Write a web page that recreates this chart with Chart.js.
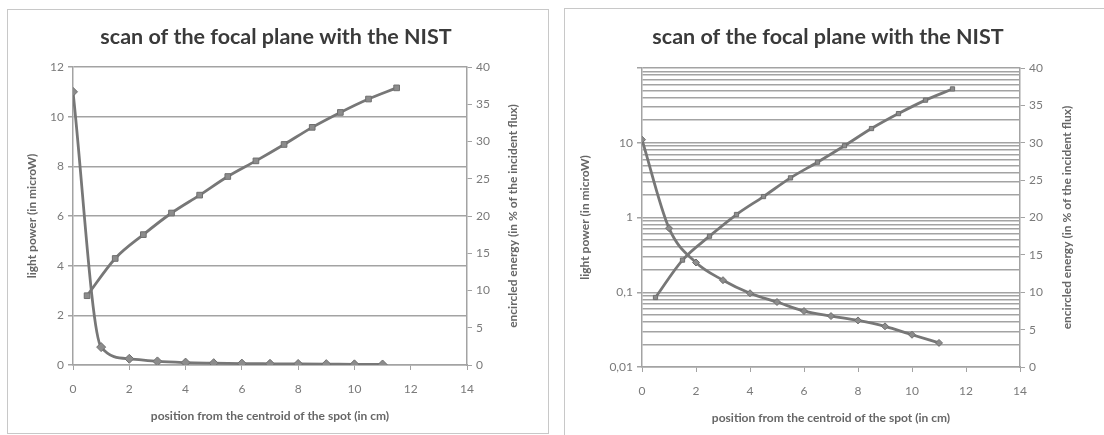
<!DOCTYPE html>
<html>
<head>
<meta charset="utf-8">
<script src="https://cdn.jsdelivr.net/npm/chart.js@4/dist/chart.umd.min.js"></script>
<style>
    body { margin: 0; background: #fff; width: 1104px; height: 435px; overflow: hidden; position: relative; }
    .frame { position: absolute; border: 1px solid #c8c8c8; box-sizing: border-box; }
    .holder { position: absolute; top: 0; width: 552px; height: 435px; }
</style>
</head>
<body>
<div class="frame" style="left:7px; top:9px; width:542px; height:425px;"></div>
<div class="frame" style="left:564px; top:8px; width:560px; height:440px;"></div>
<div class="holder" style="left:0;"><canvas id="linChart" width="552" height="435"></canvas></div>
<div class="holder" style="left:552px;"><canvas id="logChart" width="552" height="435"></canvas></div>
<script>
// measured light power, one point per cm
const powerPositions = [0, 1, 2, 3, 4, 5, 6, 7, 8, 9, 10, 11];
const lightPower = [11, 0.72, 0.25, 0.145, 0.097, 0.074, 0.056, 0.048, 0.042, 0.035, 0.027, 0.021];

// encircled energy, taken half way between the power points
const energyPositions = [0.5, 1.5, 2.5, 3.5, 4.5, 5.5, 6.5, 7.5, 8.5, 9.5, 10.5, 11.5];
const encircledEnergy = [9.3, 14.3, 17.5, 20.4, 22.8, 25.3, 27.4, 29.6, 31.9, 33.9, 35.7, 37.2];

const logTickLabels = { 0.01: '0,01', 0.1: '0,1', 1: '1', 10: '10' };

const chartTitle = 'scan of the focal plane with the NIST';
const xTitle = 'position from the centroid of the spot (in cm)';
const yTitle = 'light power (in microW)';
const y2Title = 'encircled energy (in % of the incident flux)';

const lineGray = '#777777';
const gridGray = '#a3a3a3';
const tickGray = '#7a7a7a';
const titleGray = '#666666';

Chart.defaults.font.family = 'Lato, "Open Sans", sans-serif';
Chart.defaults.animation = false;

function toPoints(xs, ys) {
    return xs.map((x, i) => ({ x: x, y: ys[i] }));
}

// Excel puts the secondary axis title reading bottom to top, Chart.js does not
const rightTitlePlugin = {
    id: 'rightTitle',
    afterDraw(chart, args, opts) {
        const s = chart.scales.y2;
        const c = chart.ctx;
        c.save();
        c.translate(s.right - opts.offset, (s.top + s.bottom) / 2);
        c.rotate(-Math.PI / 2);
        c.font = 'bold 12px Lato, sans-serif';
        c.fillStyle = titleGray;
        c.textAlign = 'center';
        c.textBaseline = 'middle';
        c.fillText(opts.text, 0, 0);
        c.restore();
    }
};

function buildChart(canvasId, logScale, dims) {
    const ctx = document.getElementById(canvasId).getContext('2d');
    const markerSize = logScale ? 3.5 : 4.5;

    const yScale = logScale ? {
        type: 'logarithmic',
        min: 0.01,
        max: 100,
        afterFit: s => { s.width = dims.left; },
        afterBuildTicks: s => {
            const t = [];
            [0.01, 0.1, 1, 10].forEach(d => {
                for (let k = 1; k <= 9; k++) t.push({ value: +(d * k).toPrecision(3) });
            });
            t.push({ value: 100 });
            s.ticks = t;
        },
        ticks: {
            autoSkip: false,
            color: tickGray,
            font: { size: 12 },
            padding: 4,
            callback: v => logTickLabels[v] || ''
        },
        grid: { color: gridGray, lineWidth: 1.5, tickLength: 5, tickColor: ctx2 => (logTickLabels[ctx2.tick.value] || ctx2.tick.value === 100) ? gridGray : 'rgba(0,0,0,0)' },
        border: { color: gridGray, width: 1.5 },
        title: { display: true, text: yTitle, color: titleGray, font: { size: 12, weight: 'bold' }, padding: { top: dims.yTitlePad } }
    } : {
        type: 'linear',
        min: 0,
        max: 12,
        afterFit: s => { s.width = dims.left; },
        ticks: { stepSize: 2, color: tickGray, font: { size: 12 }, padding: 4 },
        grid: { color: gridGray, lineWidth: 1.5, tickLength: 5 },
        border: { color: gridGray, width: 1.5 },
        title: { display: true, text: yTitle, color: titleGray, font: { size: 12, weight: 'bold' }, padding: { top: dims.yTitlePad } }
    };

    return new Chart(ctx, {
        type: 'line',
        data: {
            datasets: [{
                label: 'light power',
                data: toPoints(powerPositions, lightPower),
                yAxisID: 'y',
                borderColor: lineGray,
                backgroundColor: '#8c8c8c',
                borderWidth: 2.8,
                cubicInterpolationMode: 'monotone',
                pointStyle: 'rectRot',
                pointRadius: markerSize,
                pointBorderColor: '#6f6f6f',
                pointBorderWidth: 1
            }, {
                label: 'encircled energy',
                data: toPoints(energyPositions, encircledEnergy),
                yAxisID: 'y2',
                borderColor: lineGray,
                backgroundColor: '#8c8c8c',
                borderWidth: 2.8,
                cubicInterpolationMode: 'monotone',
                pointStyle: 'rect',
                pointRadius: markerSize - 0.5,
                pointBorderColor: '#6f6f6f',
                pointBorderWidth: 1
            }]
        },
        options: {
            responsive: false,
            layout: { padding: 0 },
            plugins: {
                legend: { display: false },
                tooltip: { enabled: false },
                title: {
                    display: true,
                    text: chartTitle,
                    color: '#3a3a3a',
                    font: { size: 21.5, weight: 'bold' },
                    padding: { top: dims.titleTop, bottom: dims.top - dims.titleTop - 25.8 }
                },
                rightTitle: { text: y2Title, offset: dims.y2TitleOffset }
            },
            scales: {
                x: {
                    type: 'linear',
                    min: 0,
                    max: 14,
                    afterFit: s => { s.height = 435 - dims.bottom; },
                    ticks: { stepSize: 2, color: tickGray, font: { size: 12 }, padding: 12 },
                    grid: { drawOnChartArea: false, color: gridGray, tickLength: 5 },
                    border: { color: gridGray, width: 1.5 },
                    title: { display: true, text: xTitle, color: titleGray, font: { size: 12, weight: 'bold' }, padding: { bottom: dims.xTitlePad } }
                },
                y: yScale,
                y2: {
                    type: 'linear',
                    position: 'right',
                    min: 0,
                    max: 40,
                    afterFit: s => { s.width = dims.right; },
                    ticks: { stepSize: 5, color: tickGray, font: { size: 12 }, padding: 4 },
                    grid: { drawOnChartArea: false, color: gridGray, tickLength: 5 },
                    border: { color: gridGray, width: 1.5 }
                }
            }
        },
        plugins: [rightTitlePlugin]
    });
}

document.addEventListener('DOMContentLoaded', function() {
    buildChart('linChart', false, { left: 73, right: 85, top: 67, bottom: 365, titleTop: 24, yTitlePad: 25, xTitlePad: 12, y2TitleOffset: 39 });
    buildChart('logChart', true, { left: 90, right: 84, top: 68, bottom: 367, titleTop: 24, yTitlePad: 26, xTitlePad: 10, y2TitleOffset: 37 });
});
</script>
</body>
</html>
